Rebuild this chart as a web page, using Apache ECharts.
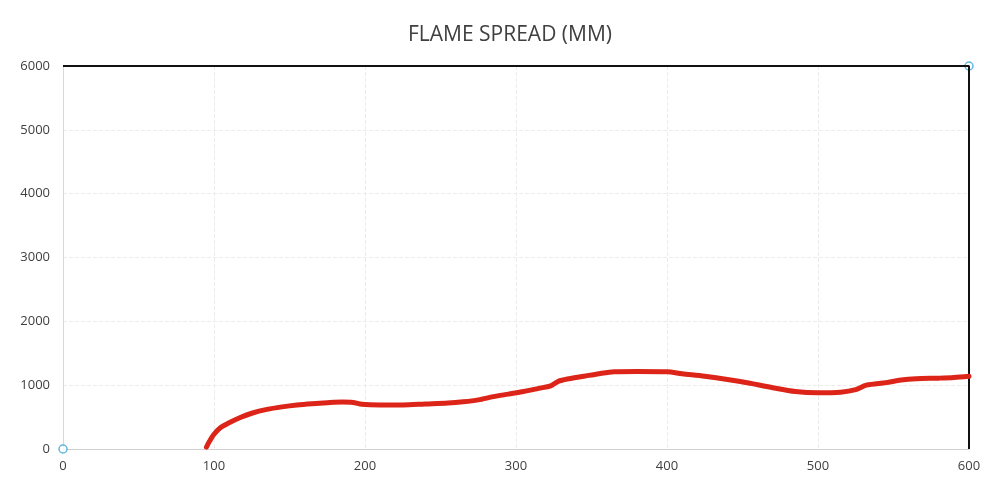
<!DOCTYPE html>
<html lang="en">
<head>
    <meta charset="UTF-8">
    <title>Flame Spread</title>
    <script src="https://cdn.jsdelivr.net/npm/echarts/dist/echarts.min.js"></script>
    <style>
        body { margin: 0; background: #fff; }
        #chart { width: 989px; height: 489px; }
    </style>
</head>
<body>
    <div id="chart"></div>
    <script>
        // time (s) vs flame spread (mm)
        const times = [95, 97, 100, 104, 110, 117, 125, 135, 145, 155, 165, 175, 185, 192, 198, 210, 225, 240, 255, 265,
            275, 285, 295, 305, 315, 323, 328, 335, 345, 355, 365, 380, 400, 410, 425, 440, 455, 470, 485, 500,
            515, 525, 532, 545, 555, 565, 580, 590, 600];
        const spread = [30, 120, 230, 330, 410, 490, 560, 620, 660, 690, 710, 725, 735, 730, 700, 690, 690, 705, 720, 740,
            770, 820, 860, 900, 950, 990, 1060, 1100, 1140, 1180, 1210, 1215, 1210, 1180, 1140, 1090, 1030, 960, 900, 880,
            890, 930, 1000, 1040, 1080, 1100, 1110, 1120, 1140];

        // frame line and the two marker points
        const frameX = [0, 600, 600];
        const frameY = [6000, 6000, 0];
        const markX = [0, 600];
        const markY = [0, 6000];

        const chart = echarts.init(document.getElementById('chart'));
        const zip = (a, b) => a.map((v, i) => [v, b[i]]);

        chart.setOption({
            animation: false,
            title: {
                text: 'FLAME SPREAD (MM)',
                left: 403,
                top: 20,
                textStyle: { fontFamily: 'Open Sans', fontWeight: 'normal', fontSize: 21, color: '#404040' }
            },
            grid: { left: 63, right: 20, top: 66, bottom: 40 },
            xAxis: {
                type: 'value', min: 0, max: 600, interval: 100,
                axisLine: { lineStyle: { color: '#d0d0d0' } },
                axisTick: { show: false },
                axisLabel: { color: '#404040', fontFamily: 'Open Sans', fontSize: 13, margin: 11 },
                splitLine: { lineStyle: { color: '#ececec', type: [4, 2] } }
            },
            yAxis: {
                type: 'value', min: 0, max: 6000, interval: 1000,
                axisLine: { show: true, lineStyle: { color: '#d8d8d8' } },
                axisTick: { show: false },
                axisLabel: { color: '#404040', fontFamily: 'Open Sans', fontSize: 13, margin: 13, formatter: v => String(v) },
                splitLine: { lineStyle: { color: '#ececec', type: [4, 2] } }
            },
            series: [
                {
                    type: 'line',
                    data: zip(frameX, frameY),
                    symbol: 'none',
                    lineStyle: { color: '#111', width: 2 }
                },
                {
                    type: 'line',
                    data: zip(times, spread),
                    smooth: 0.3,
                    symbol: 'none',
                    lineStyle: { color: '#dc2418', width: 5, cap: 'round' }
                },
                {
                    type: 'scatter',
                    data: zip(markX, markY),
                    symbol: 'circle',
                    symbolSize: 8,
                    itemStyle: { color: '#fff', borderColor: '#3aa6d8', borderWidth: 1.5 }
                }
            ]
        });
    </script>
</body>
</html>
